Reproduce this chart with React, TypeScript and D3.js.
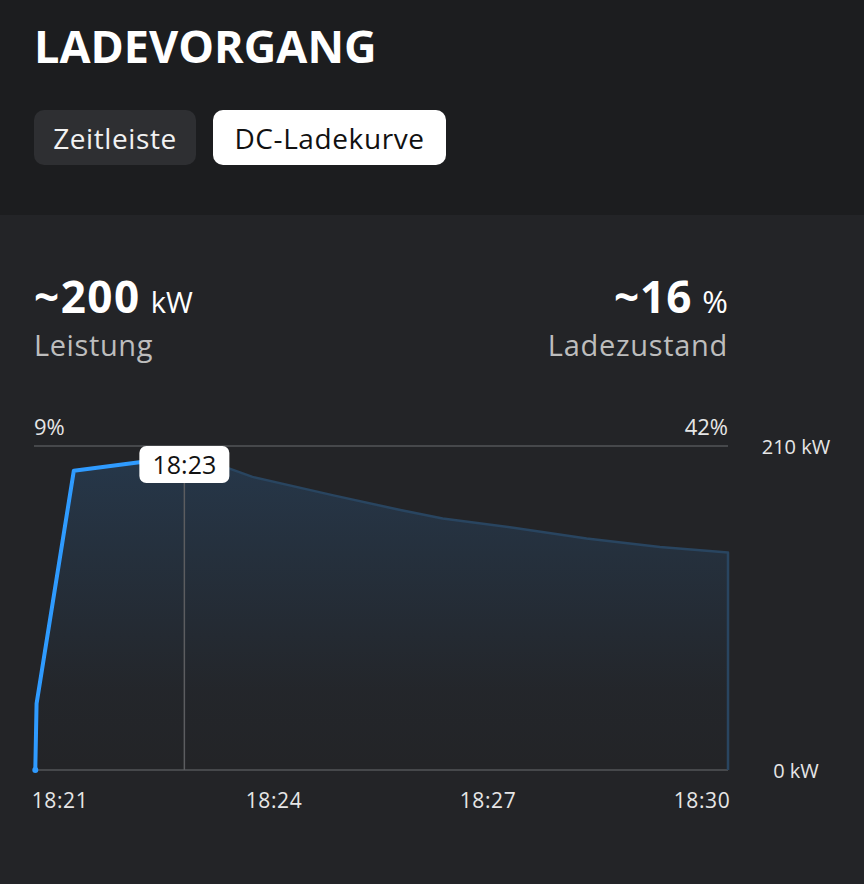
import React from 'react';
import * as d3 from 'd3';

// charging session samples (time of day, power in kW)
const sampleTimes = [
  '18:21:01', '18:21:02', '18:21:31', '18:22:22', '18:22:57', '18:23:30', '18:23:50',
  '18:24:53', '18:25:45', '18:26:18', '18:27:13', '18:28:10', '18:29:07', '18:30:00',
];
const samplePower = [0, 43, 194, 199.5, 200.5, 196, 190, 178, 168.5, 163, 157, 150, 144.5, 141];

const timeLabels = ['18:21', '18:24', '18:27', '18:30'];
const powerTicks = [0, 210];
const socStart = '9%';
const socEnd = '42%';
const cursorTime = '18:22:57';
const currentPower = '~200';
const currentSoc = '~16';

const FONT = '"Open Sans", "Noto Sans", sans-serif';
const W = 864;
const H = 884;

const parseTime = d3.timeParse('%H:%M:%S');
const fmtMinute = d3.timeFormat('%H:%M');

interface Sample { t: Date; kw: number; }
const samples: Sample[] = sampleTimes.map((s, i) => ({ t: parseTime(s) as Date, kw: samplePower[i] }));

const App: React.FC = () => {
  const left = 34;
  const right = 728;
  const top = 446;
  const bottom = 770;

  const x = d3.scaleTime()
    .domain([parseTime('18:21:00') as Date, parseTime('18:30:00') as Date])
    .range([left, right]);
  const y = d3.scaleLinear().domain([0, 210]).range([bottom, top]);

  // labels are spread edge to edge (first left-aligned, last right-aligned)
  const labelW = 52;
  const labelPos = d3.scalePoint<string>().domain(timeLabels).range([left + labelW / 2, right - labelW / 2]);

  const line = d3.line<Sample>().x(d => x(d.t)).y(d => y(d.kw));
  const area = d3.area<Sample>().x(d => x(d.t)).y0(y(0)).y1(d => y(d.kw));
  const last = samples[samples.length - 1];
  const outline = line(samples) + `L${x(last.t)},${y(0)}`;

  const cursor = parseTime(cursorTime) as Date;
  const cx = x(cursor);
  const cursorLabel = fmtMinute(d3.timeMinute.round(cursor));

  return (
    <svg width={W} height={H} style={{ position: 'absolute', left: 0, top: 0, display: 'block' }} fontFamily={FONT}>
      <defs>
        <linearGradient id="areaGrad" x1="0" y1="0" x2="0" y2="1">
          <stop offset="0%" stopColor="#3282d2" stopOpacity={0.2} />
          <stop offset="75%" stopColor="#3282d2" stopOpacity={0.02} />
          <stop offset="100%" stopColor="#3282d2" stopOpacity={0} />
        </linearGradient>
        <clipPath id="activeClip">
          <rect x={0} y={0} width={cx} height={H} />
        </clipPath>
      </defs>

      {/* backgrounds */}
      <rect x={0} y={0} width={W} height={215} fill="#1c1d1f" />
      <rect x={0} y={215} width={W} height={H - 215} fill="#232427" />

      {/* header */}
      <text x={34} y={63} fill="#ffffff" fontSize={45} fontWeight={700}>LADEVORGANG</text>
      <rect x={34} y={110} width={162} height={55} rx={10} fill="#2e2f32" />
      <text x={115} y={149} fill="#f2f2f2" fontSize={28} letterSpacing={0.6} textAnchor="middle">Zeitleiste</text>
      <rect x={213} y={110} width={233} height={55} rx={10} fill="#ffffff" />
      <text x={329.5} y={149} fill="#111111" fontSize={28} letterSpacing={0.6} textAnchor="middle">DC-Ladekurve</text>

      {/* current values */}
      <text x={34} y={313} fill="#ffffff">
        <tspan fontSize={44} fontWeight={700} letterSpacing={1.5}>{currentPower}</tspan>
        <tspan fontSize={29} dx={10}>kW</tspan>
      </text>
      <text x={34} y={356} fill="#bdbdbd" fontSize={29} letterSpacing={0.6}>Leistung</text>
      <text x={728} y={313} fill="#ffffff" textAnchor="end">
        <tspan fontSize={44} fontWeight={700} letterSpacing={1}>{currentSoc}</tspan>
        <tspan fontSize={31} dx={10}>%</tspan>
      </text>
      <text x={728} y={356} fill="#bdbdbd" fontSize={29} letterSpacing={0.7} textAnchor="end">Ladezustand</text>

      {/* state of charge at start / end */}
      <text x={left} y={435} fill="#e6e6e6" fontSize={22}>{socStart}</text>
      <text x={right} y={435} fill="#e6e6e6" fontSize={22} textAnchor="end">{socEnd}</text>

      {/* grid */}
      <line x1={left} x2={right} y1={y(210)} y2={y(210)} stroke="#46484b" strokeWidth={2} />
      <line x1={left} x2={right} y1={y(0)} y2={y(0)} stroke="#46484b" strokeWidth={2} />

      {/* y labels */}
      {powerTicks.map(v => (
        <text key={v} x={796} y={y(v) + 8} fill="#e6e6e6" fontSize={20} textAnchor="middle">{`${v} kW`}</text>
      ))}

      {/* area + outline */}
      <path d={area(samples) || ''} fill="url(#areaGrad)" />
      <path d={outline} fill="none" stroke="#294560" strokeWidth={2.5} strokeLinejoin="round" />
      <path d={line(samples) || ''} fill="none" stroke="#2f9bff" strokeWidth={4} strokeLinejoin="round"
        strokeLinecap="round" clipPath="url(#activeClip)" />
      <circle cx={x(samples[0].t)} cy={y(0)} r={3} fill="#2f9bff" />

      {/* cursor */}
      <line x1={cx} x2={cx} y1={470} y2={y(0)} stroke="#5c5d60" strokeWidth={1.5} />
      <rect x={cx - 45} y={446} width={90} height={37} rx={7} fill="#ffffff" />
      <text x={cx} y={474} fill="#111111" fontSize={25} textAnchor="middle">{cursorLabel}</text>

      {/* x labels */}
      {timeLabels.map(l => (
        <text key={l} x={labelPos(l)} y={808} fill="#e6e6e6" fontSize={21} letterSpacing={0.6} textAnchor="middle">{l}</text>
      ))}
    </svg>
  );
};

export default App;
